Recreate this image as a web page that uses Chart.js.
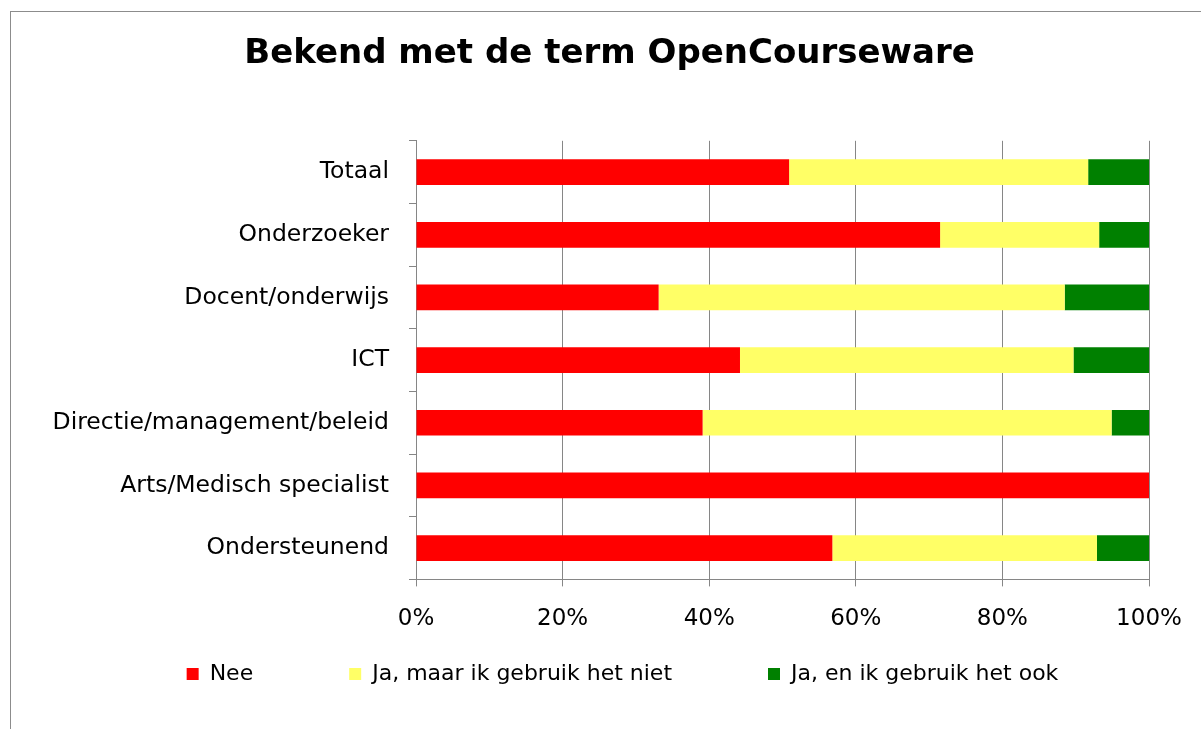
<!DOCTYPE html>
<html>
<head>
<meta charset="utf-8">
<script src="https://cdn.jsdelivr.net/npm/chart.js@4/dist/chart.umd.min.js"></script>
<style>
  html, body { margin: 0; padding: 0; background: #fff; }
  #wrap { position: relative; width: 1201px; height: 729px; }
  #frame {
    position: absolute; left: 10px; top: 11px; right: -2px; bottom: -2px;
    border-left: 1px solid #8c8c8c; border-top: 1px solid #8c8c8c;
    pointer-events: none;
  }
</style>
</head>
<body>
<div id="wrap">
  <canvas id="chart"></canvas>
  <div id="frame"></div>
</div>
<script>
const categories = [
  "Totaal",
  "Onderzoeker",
  "Docent/onderwijs",
  "ICT",
  "Directie/management/beleid",
  "Arts/Medisch specialist",
  "Ondersteunend"
];
const nee = [50.9, 71.5, 33.1, 44.2, 39.1, 100, 56.8];
const jaNiet = [40.8, 21.7, 55.4, 45.5, 55.8, 0, 36.1];
const jaOok = [8.3, 6.8, 11.5, 10.3, 5.1, 0, 7.1];
const xTicks = [0, 20, 40, 60, 80, 100];

Chart.defaults.font.family = "'DejaVu Sans', Verdana, sans-serif";
Chart.defaults.color = "#000";

const gridColor = "#868686";

// nudge title and legend to where the original has them
const blockShift = {
  id: "blockShift",
  afterLayout(chart) {
    const t = chart.titleBlock;
    if (t) { t.left += 15; t.right += 15; }
    const lg = chart.legend;
    if (lg) {
      lg.left += 28;
      lg.right += 28;
      lg.top = chart.height - 162;
      lg.bottom = lg.top + 130;
    }
  }
};

new Chart(document.getElementById("chart"), {
  type: "bar",
  data: {
    labels: categories,
    datasets: [
      { label: "Nee", data: nee, backgroundColor: "#ff0000" },
      { label: "Ja, maar ik gebruik het niet", data: jaNiet, backgroundColor: "#ffff66" },
      { label: "Ja, en ik gebruik het ook", data: jaOok, backgroundColor: "#008000" }
    ]
  },
  options: {
    indexAxis: "y",
    responsive: true,
    maintainAspectRatio: false,
    animation: false,
    datasets: {
      bar: { categoryPercentage: 1, barPercentage: 0.41 }
    },
    layout: { padding: { top: 12, left: 40, right: 52, bottom: 0 } },
    scales: {
      x: {
        stacked: true,
        min: 0,
        max: 100,
        afterBuildTicks: function (scale) {
          scale.ticks = xTicks.map(v => ({ value: v }));
        },
        grid: { color: gridColor, tickLength: 7 },
        border: { color: gridColor },
        ticks: {
          padding: 19,
          font: { size: 23 },
          callback: v => v + "%"
        }
      },
      y: {
        stacked: true,
        afterFit: function (scale) { scale.width = 376; },
        grid: { drawOnChartArea: false, color: gridColor, tickLength: 7 },
        border: { color: gridColor },
        ticks: { padding: 20, font: { size: 23.5 } }
      }
    },
    plugins: {
      title: {
        display: true,
        text: "Bekend met de term OpenCourseware",
        font: { size: 34, weight: "bold" },
        padding: { top: 22, bottom: 66 }
      },
      legend: {
        position: "bottom",
        maxHeight: 77,
        labels: {
          boxWidth: 12,
          boxHeight: 12,
          padding: 96,
          font: { size: 22 }
        }
      },
      tooltip: { enabled: false }
    }
  },
  plugins: [blockShift]
});
</script>
</body>
</html>
